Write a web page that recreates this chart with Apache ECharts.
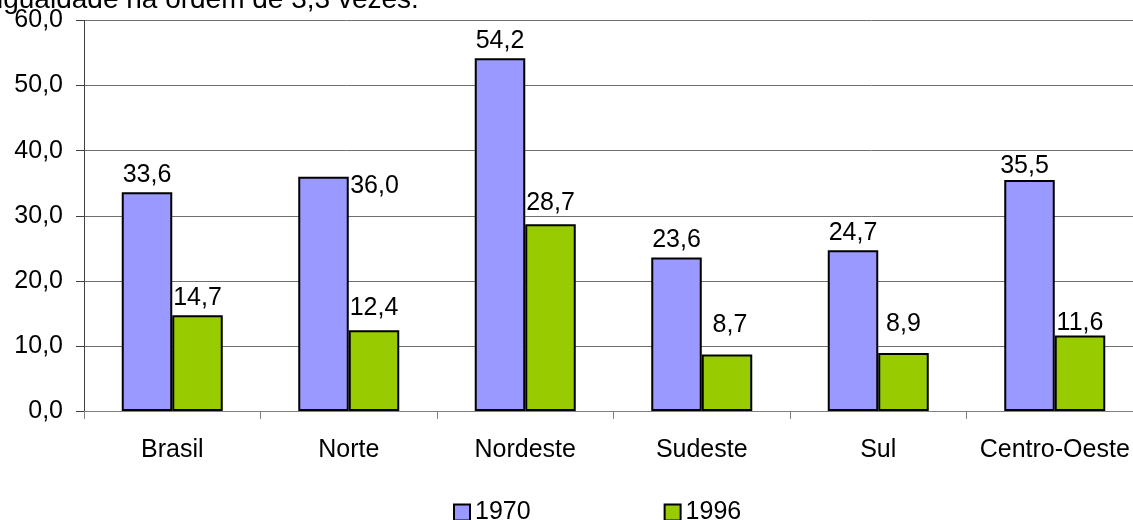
<!DOCTYPE html>
<html>
<head>
<meta charset="utf-8">
<script src="https://cdn.jsdelivr.net/npm/echarts@6/dist/echarts.min.js"></script>
<style>
  html, body { margin: 0; padding: 0; background: #fff; }
  #chart { width: 1133px; height: 520px; }
</style>
</head>
<body>
<div id="chart"></div>
<script>
var categories = ['Brasil', 'Norte', 'Nordeste', 'Sudeste', 'Sul', 'Centro-Oeste'];
var values1970 = [33.6, 36.0, 54.2, 23.6, 24.7, 35.5];
var values1996 = [14.7, 12.4, 28.7, 8.7, 8.9, 11.6];
var seriesNames = ['1970', '1996'];
var yTicks = { min: 0, max: 60, interval: 10 };

// labels in the source are nudged around by hand (excel style)
var offsets1970 = [[0, 0], [51, 27], [0, 0], [0, 0], [0, 0], [-5, 4]];
var offsets1996 = [[0, 0], [0, -5], [0, -4], [3, -12], [0, -11], [0, 5]];

var FONT = 'Liberation Sans, Arial, sans-serif';

function fmt(v) {
  return Number(v).toFixed(1).replace('.', ',');
}

function buildData(vals, offs) {
  return vals.map(function (v, i) {
    return { value: v, label: { offset: offs[i] } };
  });
}

var chart = echarts.init(document.getElementById('chart'));

var option = {
  animation: false,
  textStyle: { fontFamily: FONT },
  graphic: [{
    type: 'text',
    left: -3,
    top: -14,
    style: {
      text: 'igualdade na ordem de 3,3 vezes.',
      font: '28px ' + FONT,
      fill: '#000'
    }
  }],
  grid: {
    left: 84,
    top: 20.5,
    width: 1059,
    height: 390.5,
    containLabel: false,
    outerBoundsMode: 'none'
  },
  legend: {
    data: seriesNames,
    left: 448,
    top: 495,
    itemWidth: 16,
    itemHeight: 16,
    itemGap: 133,
    icon: 'rect',
    textStyle: { fontSize: 25, color: '#000', fontFamily: FONT }
  },
  xAxis: {
    type: 'category',
    data: categories,
    axisLine: { lineStyle: { color: '#808080', width: 1 } },
    axisTick: { show: true, length: 8, interval: 0, lineStyle: { color: '#808080' } },
    axisLabel: { interval: 0, margin: 27, fontSize: 25, color: '#000', fontFamily: FONT }
  },
  yAxis: {
    type: 'value',
    min: yTicks.min,
    max: yTicks.max,
    interval: yTicks.interval,
    axisLine: { show: true, lineStyle: { color: '#404040', width: 1 } },
    axisTick: { show: true, length: 8, lineStyle: { color: '#404040' } },
    axisLabel: {
      margin: 21,
      fontSize: 25,
      color: '#000',
      fontFamily: FONT,
      formatter: fmt
    },
    splitLine: { show: true, lineStyle: { color: '#707070', width: 1 } }
  },
  series: [
    {
      name: seriesNames[0],
      type: 'bar',
      barWidth: 50.5,
      barGap: '0%',
      data: buildData(values1970, offsets1970),
      itemStyle: { color: '#9999FF', borderColor: '#000', borderWidth: 2 },
      label: {
        show: true,
        position: 'top',
        distance: 5,
        fontSize: 25,
        color: '#000',
        fontFamily: FONT,
        formatter: function (p) { return fmt(p.value); }
      }
    },
    {
      name: seriesNames[1],
      type: 'bar',
      barWidth: 50.5,
      barGap: '0%',
      data: buildData(values1996, offsets1996),
      itemStyle: { color: '#99CC00', borderColor: '#000', borderWidth: 2 },
      label: {
        show: true,
        position: 'top',
        distance: 5,
        fontSize: 25,
        color: '#000',
        fontFamily: FONT,
        formatter: function (p) { return fmt(p.value); }
      }
    }
  ]
};

chart.setOption(option);
</script>
</body>
</html>
